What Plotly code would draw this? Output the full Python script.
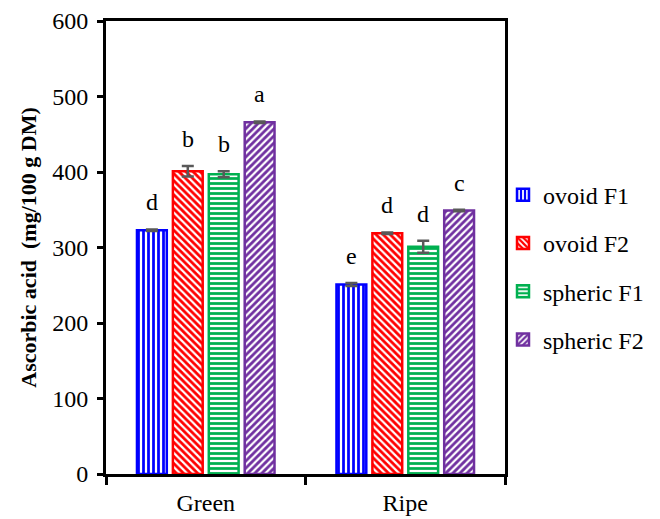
import plotly.graph_objects as go

categories = ["Green", "Ripe"]
series_names = ["ovoid F1", "ovoid F2", "spheric F1", "spheric F2"]
ovoid_f1 = [323, 251]
ovoid_f2 = [401, 319]
spheric_f1 = [397, 301]
spheric_f2 = [466, 349]
err_ovoid_f1 = [1, 2]
err_ovoid_f2 = [7, 1]
err_spheric_f1 = [4, 8]
err_spheric_f2 = [1, 1]
letters_ovoid_f1 = ["d", "e"]
letters_ovoid_f2 = ["b", "d"]
letters_spheric_f1 = ["b", "d"]
letters_spheric_f2 = ["a", "c"]

values = [ovoid_f1, ovoid_f2, spheric_f1, spheric_f2]
errors = [err_ovoid_f1, err_ovoid_f2, err_spheric_f1, err_spheric_f2]
letters = [letters_ovoid_f1, letters_ovoid_f2, letters_spheric_f1, letters_spheric_f2]
colors = ["#0000FF", "#FF0000", "#00B050", "#7030A0"]
shapes = ["|", "\\", "-", "/"]

FONT = "Liberation Serif"

fig = go.Figure()
for i, name in enumerate(series_names):
    fig.add_trace(go.Bar(
        x=categories, y=values[i], name=name, legendgroup=name,
        marker=dict(color="white", line=dict(color=colors[i], width=2.5),
                    pattern=dict(shape=shapes[i], fgcolor=colors[i], bgcolor="white",
                                 size=5, solidity=0.55, fillmode="replace")),
        error_y=dict(type="data", array=errors[i], color="#595959", thickness=2.5, width=6),
    ))

ngroups = len(series_names)
bargap = 0.28
slot = (1 - bargap) / ngroups
for i in range(ngroups):
    for j, cat in enumerate(categories):
        xoff = -(1 - bargap) / 2 + slot * (i + 0.5)
        fig.add_annotation(x=j + xoff, y=values[i][j] + errors[i][j] + 36,
                           text=letters[i][j], showarrow=False, xref="x", yref="y",
                           font=dict(family=FONT, size=24, color="black"),
                           yanchor="middle")

fig.update_layout(
    width=652, height=511,
    margin=dict(l=98, r=155, t=13, b=45, autoexpand=False),
    paper_bgcolor="white", plot_bgcolor="white",
    barmode="group", bargap=bargap, bargroupgap=0.17,
    font=dict(family=FONT, size=22, color="black"),
    showlegend=True,
    legend=dict(x=0.995, y=0.665, xanchor="left", yanchor="top",
                font=dict(family=FONT, size=24, color="black"),
                tracegroupgap=14, itemwidth=30, traceorder="grouped",
                bgcolor="rgba(0,0,0,0)"),
    xaxis=dict(showline=True, linecolor="black", linewidth=3, mirror=True,
               ticks="outside", tickson="boundaries", ticklen=8, tickwidth=3,
               tickcolor="black", tickfont=dict(family=FONT, size=24),
               ticklabelstandoff=5,
               showgrid=False, type="category", automargin=False),
    yaxis=dict(range=[0, 600], dtick=100, showline=True, linecolor="black",
               linewidth=3, mirror=True, ticks="outside", ticklen=6, tickwidth=3,
               tickcolor="black", tickfont=dict(family=FONT, size=24),
               ticklabelstandoff=4,
               showgrid=False, zeroline=False, automargin=False,
               title=dict(text="<b>Ascorbic acid  (mg/100 g DM)</b>",
                          font=dict(family=FONT, size=22), standoff=10)),
)

fig.write_html("out.html")
